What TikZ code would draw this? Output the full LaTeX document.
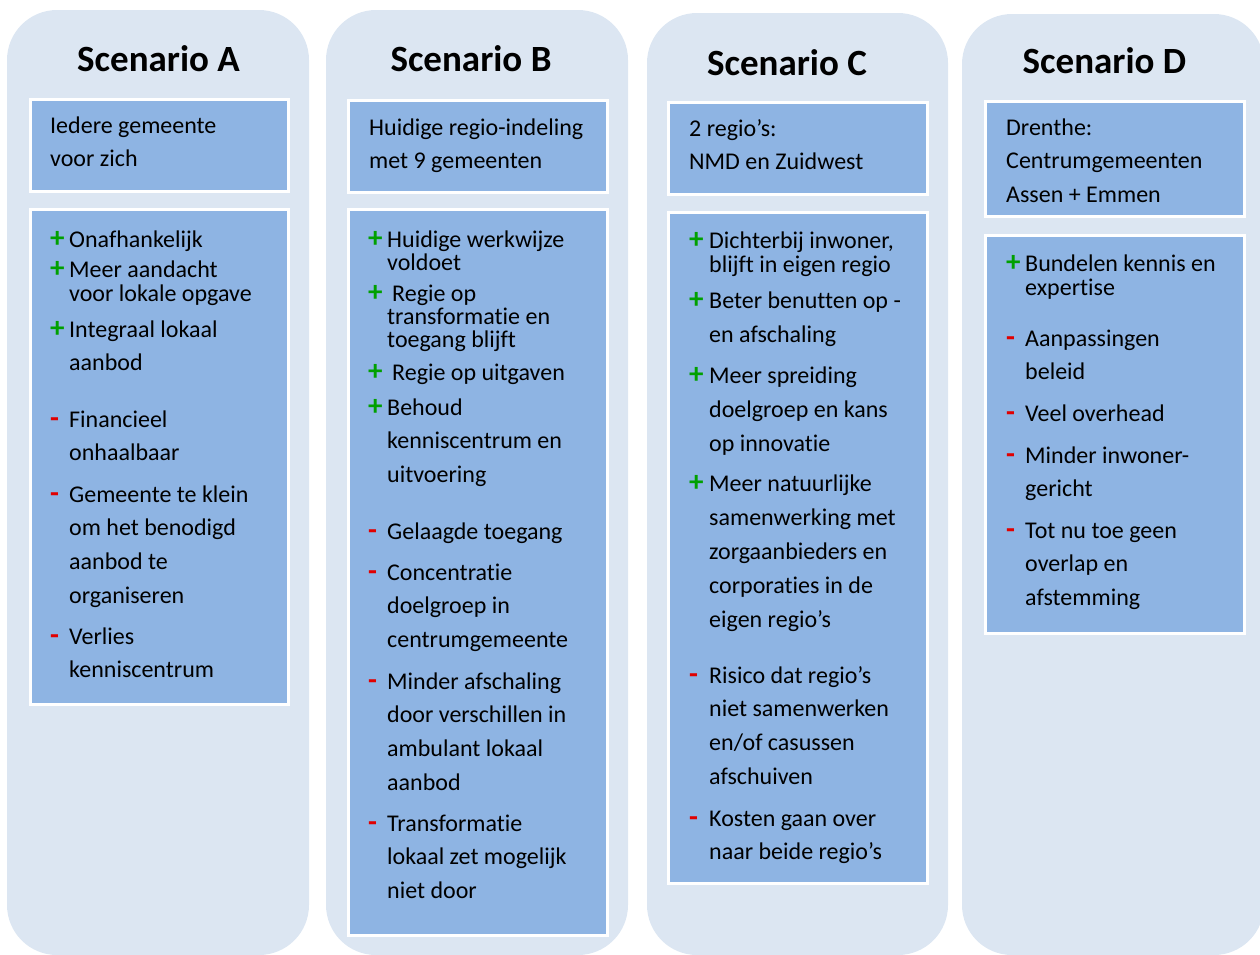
\documentclass[tikz,border=0pt]{standalone}
\usepackage{fontspec}
\setmainfont{Carlito}[Ligatures={NoCommon,NoContextual}, RawFeature={-liga;-clig;-calt}]
\usetikzlibrary{positioning}
\definecolor{colblue}{RGB}{220,230,242}
\definecolor{boxblue}{RGB}{142,180,227}
\definecolor{plusgreen}{RGB}{0,160,0}
\definecolor{minred}{RGB}{225,0,0}
\newcommand{\pro}{\textcolor{plusgreen}{\bfseries +}}
\newcommand{\con}{\textcolor{minred}{\bfseries -}}
% lines with the first baseline as the node's base
\newcommand{\itemlines}[1]{\begin{tabular}[t]{@{}l@{}}#1\end{tabular}}

\begin{document}
\begin{tikzpicture}[x=1pt, y=-1pt,
  colbg/.style = {fill=colblue, rounded corners=50pt},
  panel/.style = {rectangle, fill=boxblue, draw=white, line width=3pt,
    anchor=north west, minimum width=258pt, inner sep=0pt},
  title/.style = {anchor=base, inner sep=0pt,
    font=\fontsize{37}{44}\selectfont\bfseries},
  txt/.style = {anchor=base west, inner sep=0pt,
    font=\fontsize{24}{33.7}\selectfont},
  bullet/.style = {anchor=base west, inner sep=0pt,
    font=\fontsize{29}{29}\selectfont}]
  \path[use as bounding box, clip] (0,0) rectangle (1260,954);

  % columns
  \fill[colbg] (7,10) rectangle (309,955);
  \fill[colbg] (326,10) rectangle (628,955);
  \fill[colbg] (647,13) rectangle (948,955);
  \fill[colbg] (962,14) rectangle (1264,955);

  % titles
  \node[title] (tA) at (158.5,71) {Scenario A};
  \node[title] (tB) at (471,71) {Scenario B};
  \node[title] (tC) at (787,75) {Scenario C};
  \node[title] (tD) at (1104.5,73) {Scenario D};

  % headers
  \node[panel, minimum height=92pt] (hA) at (29,98) {};
  \node[panel, minimum height=92pt, minimum width=259pt] (hB) at (347,99) {};
  \node[panel, minimum height=92pt, minimum width=259pt] (hC) at (667,101) {};
  \node[panel, minimum height=115pt, minimum width=259pt] (hD) at (984,100) {};
  \node[txt] (hA-t) at (50,133) {\itemlines{Iedere gemeente\\voor zich}};
  \node[txt] (hB-t) at (369,135) {\itemlines{Huidige regio-indeling\\met 9 gemeenten}};
  \node[txt] (hC-t) at (689,136) {\itemlines{2 regio’s:\\NMD en Zuidwest}};
  \node[txt] (hD-t) at (1006,135) {\itemlines{Drenthe:\\Centrumgemeenten\\Assen + Emmen}};

  % pros and cons
  \node[panel, minimum height=495pt] (pA) at (29,208) {};
  \node[panel, minimum height=726pt, minimum width=259pt] (pB) at (347,208) {};
  \node[panel, minimum height=671pt, minimum width=259pt] (pC) at (667,211) {};
  \node[panel, minimum height=398pt, minimum width=259pt] (pD) at (984,234) {};

  \foreach \b/\y/\sp/\t [count=\i] in {
      \pro/247/24/{Onafhankelijk},
      \pro/277/24/{Meer aandacht\\voor lokale opgave},
      \pro/337/33.7/{Integraal lokaal\\aanbod},
      \con/427/33.7/{Financieel\\onhaalbaar},
      \con/502/33.7/{Gemeente te klein\\om het benodigd\\aanbod te\\organiseren},
      \con/644/33.7/{Verlies\\kenniscentrum}} {
    \node[bullet] (bA\i) at (50,\y) {\b};
    \node[txt, font=\fontsize{24}{\sp}\selectfont] (iA\i) at (69,\y) {\itemlines{\t}};
  }

  \foreach \b/\y/\sp/\t [count=\i] in {
      \pro/247/23.5/{Huidige werkwijze\\voldoet},
      \pro/301/23/{\hspace{5pt}Regie op\\transformatie en\\toegang blijft},
      \pro/380/33.5/{\hspace{5pt}Regie op uitgaven},
      \pro/415/33.5/{Behoud\\kenniscentrum en\\uitvoering},
      \con/539/33.5/{Gelaagde toegang},
      \con/580/33.5/{Concentratie\\doelgroep in\\centrumgemeente},
      \con/689/33.7/{Minder afschaling\\door verschillen in\\ambulant lokaal\\aanbod},
      \con/831/33.7/{Transformatie\\lokaal zet mogelijk\\niet door}} {
    \node[bullet] (bB\i) at (368,\y) {\b};
    \node[txt, font=\fontsize{24}{\sp}\selectfont] (iB\i) at (387,\y) {\itemlines{\t}};
  }

  \foreach \b/\y/\sp/\t [count=\i] in {
      \pro/248/24/{Dichterbij inwoner,\\blijft in eigen regio},
      \pro/308/34/{Beter benutten op -\\en afschaling},
      \pro/383/34/{Meer spreiding\\doelgroep en kans\\op innovatie},
      \pro/491/34/{Meer natuurlijke\\samenwerking met\\zorgaanbieders en\\corporaties in de\\eigen regio’s},
      \con/683/33.7/{Risico dat regio’s\\niet samenwerken\\en/of casussen\\afschuiven},
      \con/826/33.7/{Kosten gaan over\\naar beide regio’s}} {
    \node[bullet] (bC\i) at (689,\y) {\b};
    \node[txt, font=\fontsize{24}{\sp}\selectfont] (iC\i) at (709,\y) {\itemlines{\t}};
  }

  \foreach \b/\y/\sp/\t [count=\i] in {
      \pro/271/24.5/{Bundelen kennis en\\expertise},
      \con/346/33.5/{Aanpassingen\\beleid},
      \con/421/33.5/{Veel overhead},
      \con/463/33.5/{Minder inwoner-\\gericht},
      \con/538/33.5/{Tot nu toe geen\\overlap en\\afstemming}} {
    \node[bullet] (bD\i) at (1006,\y) {\b};
    \node[txt, font=\fontsize{24}{\sp}\selectfont] (iD\i) at (1025,\y) {\itemlines{\t}};
  }
\end{tikzpicture}
\end{document}
